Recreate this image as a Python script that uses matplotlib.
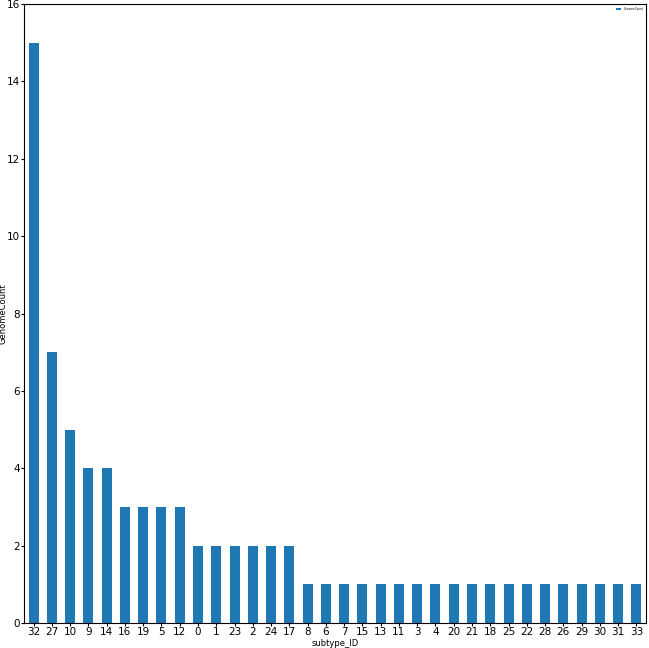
import matplotlib
matplotlib.use("Agg")
import matplotlib.pyplot as plt
import pandas as pd

subtype_ids = ['32', '27', '10', '9', '14', '16', '19', '5', '12', '0', '1', '23', '2', '24', '17',
               '8', '6', '7', '15', '13', '11', '3', '4', '20', '21', '18', '25', '22', '28', '26',
               '29', '30', '31', '33']
genome_counts = [15, 7, 5, 4, 4, 3, 3, 3, 3, 2, 2, 2, 2, 2, 2,
                 1, 1, 1, 1, 1, 1, 1, 1, 1, 1, 1, 1, 1, 1, 1,
                 1, 1, 1, 1]

df = pd.DataFrame({'GenomeCount': genome_counts}, index=pd.Index(subtype_ids, name='subtype_ID'))

fig = plt.figure(figsize=(6.49, 6.48), dpi=100)
ax = fig.add_axes([24/649, 25/648, 622/649, 619/648])
df.plot(kind='bar', ax=ax, color='#1f77b4', width=0.55, rot=0)

ax.set_ylim(0, 16)
ax.set_yticks(range(0, 17, 2))
ax.tick_params(labelsize=7.5, length=2, pad=1)
ax.set_xlabel('subtype_ID', fontsize=6, labelpad=1)
ax.set_ylabel('GenomeCount', fontsize=6)
ax.yaxis.set_label_coords(-0.026, 0.5)
ax.legend(loc='upper right', fontsize=2, frameon=False)

fig.savefig('out.png', dpi=100)
